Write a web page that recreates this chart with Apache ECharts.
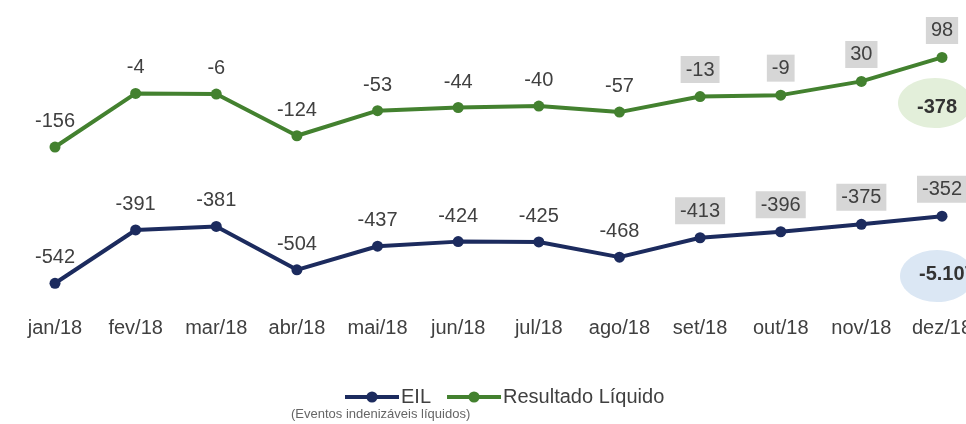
<!DOCTYPE html>
<html>
<head>
<meta charset="utf-8">
<script src="https://cdn.jsdelivr.net/npm/echarts@6/dist/echarts.min.js"></script>
<style>html,body{margin:0;padding:0;background:#fff;}#c{width:966px;height:424px;}</style>
</head>
<body>
<div id="c"></div>
<script>
const months = ['jan/18','fev/18','mar/18','abr/18','mai/18','jun/18','jul/18','ago/18','set/18','out/18','nov/18','dez/18'];
const eil = [-542,-391,-381,-504,-437,-424,-425,-468,-413,-396,-375,-352];
const resultado = [-156,-4,-6,-124,-53,-44,-40,-57,-13,-9,30,98];
const boxedFrom = 8; // set/18 onwards shown with gray boxes
const eilTotal = '-5.107';
const resultadoTotal = '-378';

const FONT = 'Liberation Sans, Arial, sans-serif';
const GREEN = '#43812f';
const NAVY = '#1c2b5e';

function labeled(values) {
  return values.map((v, i) => {
    if (i >= boxedFrom) {
      return { value: v, label: { backgroundColor: '#d6d6d6', padding: [4, 5, 3, 5], distance: 8 } };
    }
    return v;
  });
}

const chart = echarts.init(document.getElementById('c'), null, { renderer: 'canvas' });
chart.setOption({
  animation: false,
  backgroundColor: '#fff',
  grid: { left: 55, right: 24, top: 35.5, bottom: 113.2, containLabel: false, outerBoundsMode: 'none' },
  xAxis: {
    type: 'category',
    data: months,
    boundaryGap: false,
    axisLine: { show: false },
    axisTick: { show: false },
    splitLine: { show: false },
    axisLabel: { color: '#404040', fontSize: 20, fontFamily: FONT, margin: 8, interval: 0 }
  },
  yAxis: {
    type: 'value', min: -620, max: 160, show: false
  },
  legend: {
    left: 343, top: 387, padding: 0,
    itemWidth: 54, itemHeight: 14, itemGap: 14,
    lineStyle: { width: 4 },
    textStyle: { color: '#404040', fontSize: 20, fontFamily: FONT, padding: [0, 0, 0, -3] },
    data: ['EIL', 'Resultado Líquido']
  },
  series: [
    {
      name: 'EIL', type: 'line', data: labeled(eil),
      symbol: 'circle', symbolSize: 11,
      lineStyle: { color: NAVY, width: 4 },
      itemStyle: { color: NAVY },
      label: { show: true, position: 'top', distance: 10, color: '#404040', fontSize: 20, fontFamily: FONT }
    },
    {
      name: 'Resultado Líquido', type: 'line', data: labeled(resultado),
      symbol: 'circle', symbolSize: 11,
      lineStyle: { color: GREEN, width: 4 },
      itemStyle: { color: GREEN },
      label: { show: true, position: 'top', distance: 10, color: '#404040', fontSize: 20, fontFamily: FONT }
    }
  ],
  graphic: [
    { type: 'ellipse', shape: { cx: 935, cy: 103, rx: 37, ry: 25 }, style: { fill: '#e3efda' }, z: 0 },
    { type: 'text', x: 937, y: 107, style: { text: resultadoTotal, fill: '#333', font: 'bold 20px ' + FONT, textAlign: 'center', textVerticalAlign: 'middle' }, z: 1 },
    { type: 'ellipse', shape: { cx: 937, cy: 276, rx: 37, ry: 26 }, style: { fill: '#dbe7f4' }, z: 0 },
    { type: 'text', x: 919, y: 274, style: { text: eilTotal, fill: '#333', font: 'bold 20px ' + FONT, textAlign: 'left', textVerticalAlign: 'middle' }, z: 1 },
    { type: 'text', x: 291, y: 414, style: { text: '(Eventos indenizáveis líquidos)', fill: '#666', font: '13px ' + FONT, textAlign: 'left', textVerticalAlign: 'middle' } }
  ]
});
</script>
</body>
</html>
